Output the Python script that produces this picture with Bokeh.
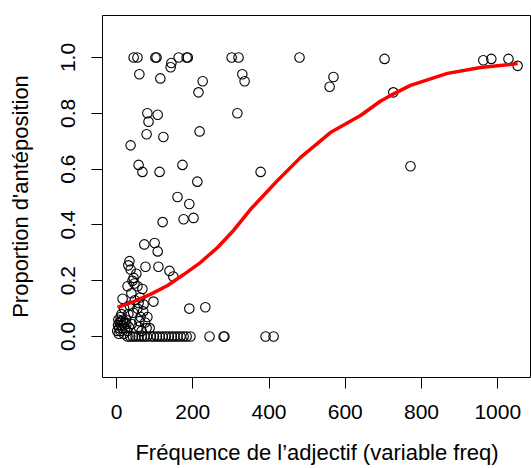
from bokeh.plotting import figure
from bokeh.models import FixedTicker, PrintfTickFormatter, Range1d
from bokeh.embed import file_html
from bokeh.resources import INLINE

# --- data ---
freq_top = [45, 55, 102, 105, 163, 184, 187, 302, 320, 480, 703, 962, 983, 1028, 1052]
prop_top = [1.0, 1.0, 1.0, 1.0, 1.0, 1.0, 1.0, 1.0, 1.0, 1.0, 0.995, 0.99, 0.995, 0.995, 0.97]

freq_upper = [144, 142, 60, 115, 226, 215, 330, 336, 81, 108, 84, 317, 79, 123, 218, 37, 58, 68,
              113, 173, 212, 569, 559, 726, 378, 771, 160, 191, 121, 176, 202]
prop_upper = [0.98, 0.965, 0.94, 0.925, 0.915, 0.875, 0.94, 0.915, 0.80, 0.795, 0.77, 0.80, 0.725,
              0.715, 0.735, 0.685, 0.615, 0.59, 0.59, 0.615, 0.555, 0.93, 0.895, 0.875, 0.59, 0.61,
              0.50, 0.475, 0.41, 0.42, 0.425]

freq_mid = [73, 100, 108, 34, 31, 37, 76, 110, 139, 149, 52, 45, 42, 29, 68, 39, 16, 97, 58, 71,
            13, 31, 63, 81, 191, 233, 58, 79,
            47, 55, 62, 48, 35, 20, 55, 70, 44, 25, 60, 75, 40, 66, 87]
prop_mid = [0.33, 0.335, 0.305, 0.27, 0.255, 0.24, 0.25, 0.25, 0.235, 0.215, 0.225, 0.21, 0.20,
            0.18, 0.17, 0.155, 0.135, 0.125, 0.12, 0.115, 0.08, 0.08, 0.07, 0.07, 0.10, 0.105,
            0.035, 0.03,
            0.19, 0.18, 0.14, 0.13, 0.11, 0.10, 0.10, 0.09, 0.085, 0.06, 0.055, 0.05, 0.045, 0.02, 0.03]

freq_low = [2, 4, 5, 7, 8, 10, 11, 13, 15, 17, 19, 21, 23, 26, 28, 32, 6, 12]
prop_low = [0.02, 0.04, 0.06, 0.03, 0.05, 0.02, 0.07, 0.04, 0.03, 0.06, 0.01, 0.05, 0.03, 0.045,
            0.02, 0.035, 0.01, 0.055]

freq_zero = [29, 36, 43, 50, 58, 66, 73, 80, 90, 98, 106, 113, 121, 129, 137, 145, 152, 160, 168,
             176, 184, 194, 244, 281, 283, 391, 412]
prop_zero = [0.0] * len(freq_zero)

smooth_x = [2.6, 45, 89, 134, 176, 220, 265, 307, 351, 425, 483, 561, 640, 692, 719, 771, 868, 955, 1052]
smooth_y = [0.104, 0.125, 0.151, 0.183, 0.222, 0.265, 0.319, 0.380, 0.455, 0.563, 0.642, 0.731,
            0.792, 0.843, 0.864, 0.900, 0.943, 0.964, 0.978]

x_ticks = [0, 200, 400, 600, 800, 1000]
y_ticks = [0.0, 0.2, 0.4, 0.6, 0.8, 1.0]

x_title = "Fréquence de l’adjectif (variable freq)"
y_title = "Proportion d'antéposition"

freq = freq_top + freq_upper + freq_mid + freq_low + freq_zero
prop = prop_top + prop_upper + prop_mid + prop_low + prop_zero

FONT = "Liberation Sans"

p = figure(width=531, height=468, output_backend="svg", toolbar_location=None,
           x_range=Range1d(-36.7, 1088.4), y_range=Range1d(-0.147, 1.1505),
           min_border_left=102, min_border_right=0, min_border_top=15, min_border_bottom=91)
p.background_fill_color = "white"
p.border_fill_color = "white"
p.outline_line_color = "black"
p.outline_line_width = 1
p.xgrid.visible = False
p.ygrid.visible = False

p.scatter(freq, prop, marker="circle", size=9.5, fill_color=None,
          line_color="black", line_width=1.1)
p.line(smooth_x, smooth_y, line_color="red", line_width=3.5)

for ax in (p.xaxis[0], p.yaxis[0]):
    ax.axis_line_color = None
    ax.major_tick_line_color = "black"
    ax.major_tick_out = 11
    ax.major_tick_in = 0
    ax.minor_tick_line_color = None
    ax.major_label_text_font = FONT
    ax.major_label_text_font_size = "21px"
    ax.major_label_text_color = "black"
    ax.axis_label_text_font = FONT
    ax.axis_label_text_font_size = "22px"
    ax.axis_label_text_font_style = "normal"
    ax.axis_label_text_color = "black"

p.xaxis.ticker = FixedTicker(ticks=x_ticks)
p.yaxis.ticker = FixedTicker(ticks=y_ticks)
p.yaxis.formatter = PrintfTickFormatter(format="%.1f")
p.yaxis.major_label_orientation = "vertical"
p.xaxis.major_label_standoff = 16
p.yaxis.major_label_standoff = 16
p.xaxis.axis_label = x_title
p.yaxis.axis_label = y_title
p.xaxis.axis_label_standoff = 18
p.xaxis.axis_label_text_line_height = 0.8
p.yaxis.axis_label_standoff = 26

open("out.html", "w").write(file_html(p, INLINE))
